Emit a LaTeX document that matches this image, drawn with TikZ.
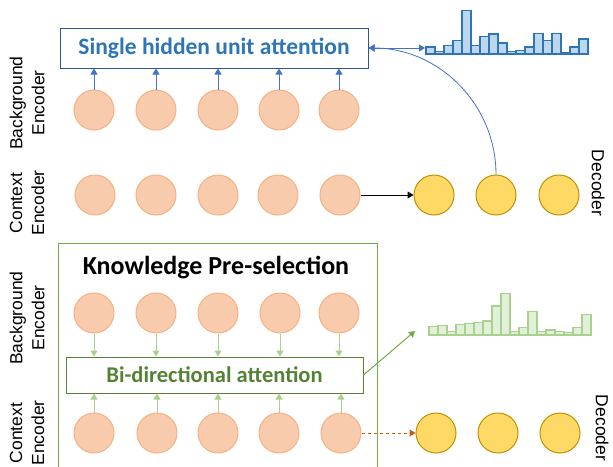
\documentclass[tikz,border=0pt]{standalone}
\usepackage{fontspec}
\setmainfont{Liberation Sans}
\newfontfamily\titlefont{Carlito}
\usetikzlibrary{arrows.meta}

\definecolor{peach}{HTML}{F8CBAD}
\definecolor{peachline}{HTML}{F4B183}
\definecolor{gold}{HTML}{FFD966}
\definecolor{goldline}{HTML}{BF9000}
\definecolor{navy}{HTML}{2F5597}
\definecolor{attblue}{HTML}{2E75B6}
\definecolor{arrblue}{HTML}{4472C4}
\definecolor{barblue}{HTML}{BDD7EE}
\definecolor{leaf}{HTML}{A9D18E}
\definecolor{leafmid}{HTML}{70AD47}
\definecolor{leafdark}{HTML}{548235}
\definecolor{barleaf}{HTML}{E2F0D9}
\definecolor{rust}{HTML}{C55A11}

\begin{document}
\begin{tikzpicture}[x=1pt, y=-1pt, >={Triangle[width=7pt,length=6pt]},
  enc/.style={draw=peachline, fill=peach, circle, minimum size=40pt, inner sep=0pt, line width=1pt},
  dec/.style={draw=goldline, fill=gold, circle, minimum size=40pt, inner sep=0pt, line width=1pt},
  side/.style={align=center, font=\fontsize{17.5}{22}\selectfont, rotate=90},
  decside/.style={font=\fontsize{17.5}{22}\selectfont, rotate=-90, inner sep=1pt}]
  \useasboundingbox (0,0) rectangle (613,466);

  % upper part
  \node (Attn) at (214,48) [draw=navy, line width=1pt, minimum width=308pt,
minimum height=40pt, text=attblue, font=\titlefont\bfseries\fontsize{23.5}{27}\selectfont]
{Single hidden unit attention};

  \node (Back1) at (94,110) [enc] {};
  \node (Back2) at (156,110) [enc] {};
  \node (Back3) at (218,110) [enc] {};
  \node (Back4) at (279,110) [enc] {};
  \node (Back5) at (339,110) [enc] {};

  \node (Ctx1) at (95,195) [enc] {};
  \node (Ctx2) at (156,195) [enc] {};
  \node (Ctx3) at (218,195) [enc] {};
  \node (Ctx4) at (278,195) [enc] {};
  \node (Ctx5) at (340,195) [enc] {};

  \node (Dec1) at (434,195) [dec] {};
  \node (Dec2) at (496,195) [dec] {};
  \node (Dec3) at (559,195) [dec] {};

  \node (BackLabel) at (27,103) [side] {Background\\Encoder};
  \node (CtxLabel) at (27,203) [side] {Context\\Encoder};
  \node (DecLabel) at (598,183) [decside] {Decoder};

  \draw[->, arrblue, line width=1pt] (Back1.north) -- (Back1.north |- Attn.south);
  \draw[->, arrblue, line width=1pt] (Back2.north) -- (Back2.north |- Attn.south);
  \draw[->, arrblue, line width=1pt] (Back3.north) -- (Back3.north |- Attn.south);
  \draw[->, arrblue, line width=1pt] (Back4.north) -- (Back4.north |- Attn.south);
  \draw[->, arrblue, line width=1pt] (Back5.north) -- (Back5.north |- Attn.south);

  \draw[->, line width=1pt] (Ctx5) -- (Dec1);
  \draw[->, arrblue, line width=0.8pt] (Dec2.north) to[out=90, in=0] (Attn.east);

  \coordinate (BlueHist) at (425,48);
  \draw[<->, arrblue, line width=1pt] (Attn.east) -- (BlueHist);
  \foreach \h [count=\i] in {7,2.7,8.7,13.7,43.3,8.3,17.7,20,11,2.7,3.3,7,20.7,13.7,20.7,1,7,15}
    \draw[attblue, fill=barblue, line width=1.1pt] ({426+9*(\i-1)},54) rectangle ++(9,-\h);

  % knowledge pre-selection
  \draw[leafmid, line width=1pt] (58,243) rectangle (377,475);
  \node (KpsTitle) at (216,268) [font=\titlefont\bfseries\fontsize{26}{30}\selectfont]
{Knowledge Pre-selection};

  \node (BiAttn) at (214.5,375) [draw=leafdark, line width=1pt, minimum width=297pt,
minimum height=36pt, text=leafdark, font=\titlefont\bfseries\fontsize{22.5}{26}\selectfont]
{Bi-directional attention};

  \node (KBack1) at (94,313) [enc] {};
  \node (KBack2) at (156,313) [enc] {};
  \node (KBack3) at (218,313) [enc] {};
  \node (KBack4) at (280,313) [enc] {};
  \node (KBack5) at (339,313) [enc] {};

  \node (KCtx1) at (94,433) [enc] {};
  \node (KCtx2) at (157,433) [enc] {};
  \node (KCtx3) at (218,433) [enc] {};
  \node (KCtx4) at (279,433) [enc] {};
  \node (KCtx5) at (341,433) [enc] {};

  \node (KDec1) at (436,433) [dec] {};
  \node (KDec2) at (498,433) [dec] {};
  \node (KDec3) at (560,433) [dec] {};

  \node (KBackLabel) at (27,318) [side] {Background\\Encoder};
  \node (KCtxLabel) at (27,433) [side] {Context\\Encoder};
  \node (KDecLabel) at (602,428) [decside] {Decoder};

  \draw[->, leaf, line width=1pt] (KBack1.south) -- (KBack1.south |- BiAttn.north);
  \draw[->, leaf, line width=1pt] (KBack2.south) -- (KBack2.south |- BiAttn.north);
  \draw[->, leaf, line width=1pt] (KBack3.south) -- (KBack3.south |- BiAttn.north);
  \draw[->, leaf, line width=1pt] (KBack4.south) -- (KBack4.south |- BiAttn.north);
  \draw[->, leaf, line width=1pt] (KBack5.south) -- (KBack5.south |- BiAttn.north);

  \draw[->, leaf, line width=1pt] (KCtx1.north) -- (KCtx1.north |- BiAttn.south);
  \draw[->, leaf, line width=1pt] (KCtx2.north) -- (KCtx2.north |- BiAttn.south);
  \draw[->, leaf, line width=1pt] (KCtx3.north) -- (KCtx3.north |- BiAttn.south);
  \draw[->, leaf, line width=1pt] (KCtx4.north) -- (KCtx4.north |- BiAttn.south);
  \draw[->, leaf, line width=1pt] (KCtx5.north) -- (KCtx5.north |- BiAttn.south);

  \draw[->, rust, dashed, line width=1pt] (KCtx5) -- (KDec1);

  \coordinate (GreenHist) at (415,331);
  \draw[->, leafmid, line width=1pt] (BiAttn.east) -- (GreenHist);
  \foreach \h [count=\i] in {8.3,9.3,3.3,10.7,11.7,12.7,14,29,41.3,3.3,7.7,23.3,3.3,5,3.3,2.7,7.7,20.3}
    \draw[leaf, fill=barleaf, line width=1.1pt] ({429+9*(\i-1)},335) rectangle ++(9,-\h);
\end{tikzpicture}
\end{document}
